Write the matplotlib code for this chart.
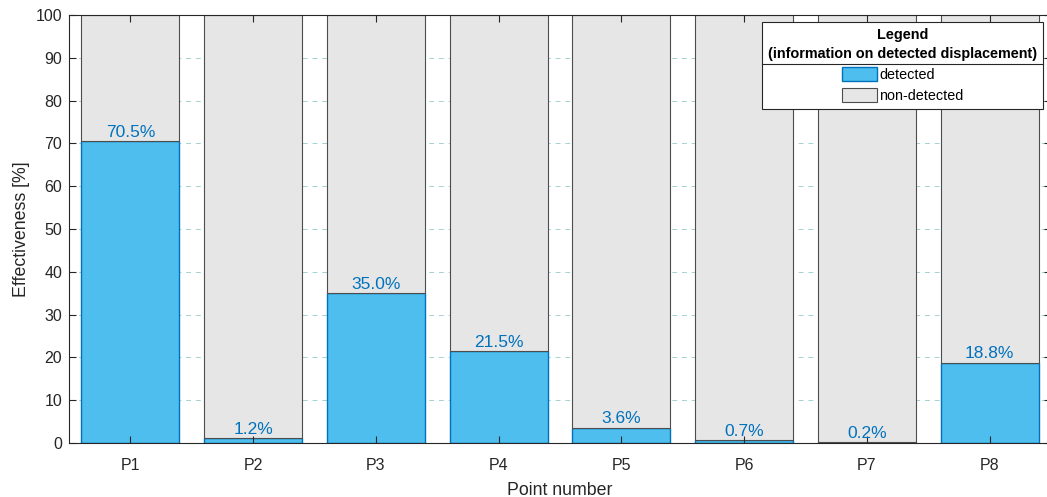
import numpy as np
import matplotlib
matplotlib.use("Agg")
import matplotlib.pyplot as plt
from matplotlib.lines import Line2D

plt.rcParams['font.family'] = ['Liberation Sans', 'DejaVu Sans']

# data
points = ['P1', 'P2', 'P3', 'P4', 'P5', 'P6', 'P7', 'P8']
detected = [70.5, 1.2, 35.0, 21.5, 3.6, 0.7, 0.2, 18.8]
non_detected = [29.5, 98.8, 65.0, 78.5, 96.4, 99.3, 99.8, 81.2]
yticks = [0, 10, 20, 30, 40, 50, 60, 70, 80, 90, 100]

c_det = '#4DBEEE'
c_det_edge = '#0072BD'
c_non = '#E6E6E6'
c_non_edge = '#4D4D4D'
c_axis = '#262626'

fig = plt.figure(figsize=(10.47, 4.97), dpi=100)
ax = fig.add_axes([69/1047, 54/497, 982/1047, 428/497])

x = np.arange(1, len(points) + 1)
w = 0.8

# grid behind bars
ax.hlines(yticks[1:-1], 0.5, len(points) + 0.5, colors='#A3D1D1',
          linestyles=(0, (5, 5)), linewidth=0.7, zorder=0)

b1 = ax.bar(x, detected, w, color=c_det, edgecolor=c_det_edge, linewidth=1.0,
            zorder=1, label='detected')
b2 = ax.bar(x, non_detected, w, bottom=detected, color=c_non,
            edgecolor=c_non_edge, linewidth=0.8, zorder=1, label='non-detected')

for xi, v in zip(x, detected):
    ax.text(xi, v + 1.0, '%.1f%%' % v, ha='center', va='baseline',
            color=c_det_edge, fontsize=12.5, zorder=3)

ax.set_xlim(0.5, len(points) + 0.5)
ax.set_ylim(0, 100)
ax.set_xticks(x)
ax.set_xticklabels(points)
ax.set_yticks(yticks)
ax.tick_params(direction='in', length=5, width=0.8, colors=c_axis,
               labelsize=11.5, top=True, right=True)
ax.tick_params(axis='x', pad=11)
ax.tick_params(axis='y', pad=5)
for s in ax.spines.values():
    s.set_color(c_axis)
    s.set_linewidth(0.8)
    s.set_zorder(2)

ax.set_xlabel('Point number', fontsize=12.8, color=c_axis, labelpad=6)
ax.set_ylabel('Effectiveness [%]', fontsize=12.8, color=c_axis, labelpad=4)

leg = ax.legend(handles=[b1, b2], loc='upper right',
                bbox_to_anchor=((1043 - 69) / 982, (443 - 22) / 428),
                borderaxespad=0,
                title='Legend\n(information on detected displacement)',
                fontsize=10.4, title_fontproperties={'weight': 'bold', 'size': 10.4},
                alignment='center', fancybox=False, framealpha=1,
                edgecolor=c_axis, handlelength=2.4, handleheight=1.15,
                handletextpad=0.15, labelspacing=0.42, borderpad=0.4)
leg.get_title().set_multialignment('center')
leg.get_title().set_linespacing(1.45)
leg.get_frame().set_linewidth(0.8)
leg.set_zorder(5)

# separator line under the legend title
fig.canvas.draw()
r = fig.canvas.get_renderer()
fb = leg.get_frame().get_window_extent(r)
tb = leg.get_title().get_window_extent(r)
ysep = tb.y0 - 3
inv = fig.transFigure.inverted()
p0 = inv.transform((fb.x0, ysep))
p1 = inv.transform((fb.x1, ysep))
fig.add_artist(Line2D([p0[0], p1[0]], [p0[1], p1[1]], color=c_axis,
                      linewidth=0.8, zorder=6))

fig.savefig('out.png', dpi=100)
